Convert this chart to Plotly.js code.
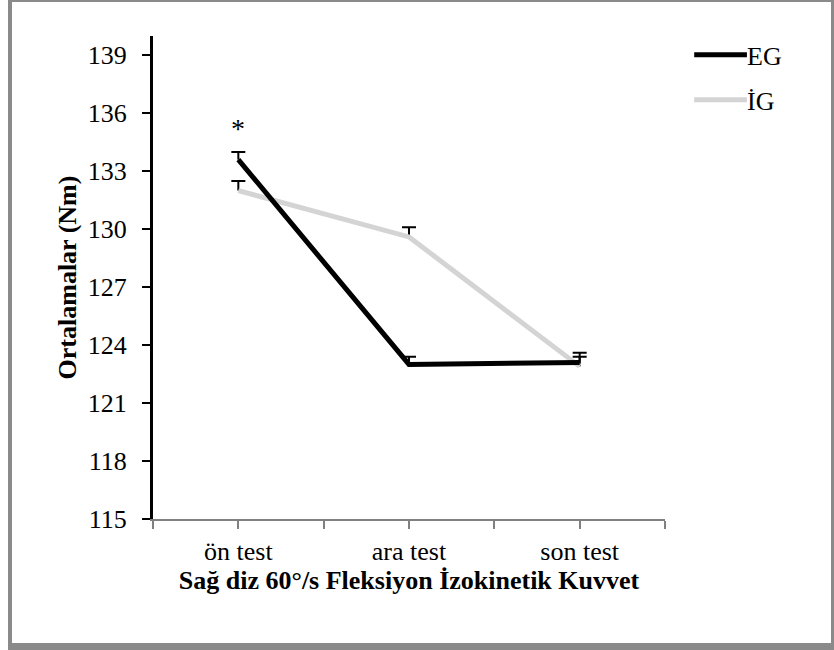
<!DOCTYPE html>
<html>
<head>
<meta charset="utf-8">
<script src="https://cdn.plot.ly/plotly-3.0.1.min.js"></script>
<style>
  html, body { margin: 0; padding: 0; background: #fff; }
  #wrap { position: relative; width: 834px; height: 650px; }
  #chart { position: absolute; left: 0; top: 0; width: 834px; height: 650px; }
  #frame {
    position: absolute; left: 8px; top: 0; width: 819px; height: 641px;
    border-left: 4px solid #8a8a8a; border-top: 2px solid #8a8a8a;
    border-right: 3px solid #8a8a8a; border-bottom: 7px solid #8a8a8a;
    pointer-events: none;
  }
</style>
</head>
<body>
<div id="wrap">
  <div id="chart"></div>
  <div id="frame"></div>
</div>
<script>
// Test phases and group means (Nm) with their upper error values
const categories = ['ön test', 'ara test', 'son test'];
const seriesNames = ['EG', 'İG'];
const egMeans = [133.6, 123.0, 123.1];
const egErr = [0.4, 0.4, 0.5];
const igMeans = [132.0, 129.6, 122.9];
const igErr = [0.5, 0.5, 0.5];
const yTicks = [115, 118, 121, 124, 127, 130, 133, 136, 139];
const significance = [{ phase: 'ön test', label: '*', y: 135.2 }];

const serif = 'Liberation Serif';
const xIdx = categories.map((c, i) => i);

// ticks sit both on category centres and halfway between them
const tickVals = [];
const tickText = [];
for (let i = -0.5; i <= categories.length - 0.5; i += 0.5) {
  tickVals.push(i);
  tickText.push(Number.isInteger(i) ? categories[i] : '');
}

function series(name, y, err, color) {
  return [
    // upper error stem, no caps
    { type: 'scatter', mode: 'none', x: xIdx, y: y, hoverinfo: 'skip',
      error_y: { type: 'data', symmetric: false, array: err, arrayminus: err.map(() => 0),
                 color: '#000', thickness: 2, width: 0 },
      showlegend: false },
    // single cap on top of each stem
    { type: 'scatter', mode: 'none', x: xIdx, y: y.map((v, i) => v + err[i]), hoverinfo: 'skip',
      error_y: { type: 'data', array: err.map(() => 0), color: '#000', thickness: 2, width: 7 },
      showlegend: false },
    { type: 'scatter', mode: 'lines', name: name, x: xIdx, y: y,
      line: { color: color, width: 5 }, showlegend: false, cliponaxis: false }
  ];
}

const legendColors = ['#000000', '#d4d4d4'];
const data = [].concat(
  series(seriesNames[1], igMeans, igErr, legendColors[1]),
  series(seriesNames[0], egMeans, egErr, legendColors[0])
);

// legend drawn as line samples with labels to the right
const legendY = [0.961, 0.868];
const shapes = seriesNames.map((n, i) => ({
  type: 'line', xref: 'paper', yref: 'paper',
  x0: 1.057, x1: 1.16, y0: legendY[i], y1: legendY[i],
  line: { color: legendColors[i], width: 5 }
}));
const annotations = seriesNames.map((n, i) => ({
  xref: 'paper', yref: 'paper', x: 1.156, y: legendY[i] - 0.004,
  xanchor: 'left', yanchor: 'middle', text: n, showarrow: false,
  font: { family: serif, size: 26, color: '#000' }
}));
significance.forEach(s => annotations.push({
  x: categories.indexOf(s.phase), y: s.y, xref: 'x', yref: 'y',
  text: s.label, showarrow: false, yanchor: 'middle',
  font: { family: serif, size: 28, color: '#000' }
}));

const layout = {
  width: 834, height: 650,
  margin: { l: 153, r: 169, t: 36, b: 131 },
  paper_bgcolor: 'rgba(0,0,0,0)', plot_bgcolor: '#fff',
  showlegend: false,
  font: { family: serif, size: 26, color: '#000' },
  xaxis: {
    range: [-0.5, categories.length - 0.5], tickvals: tickVals, ticktext: tickText,
    showgrid: false, zeroline: false, showline: true, linecolor: '#808080', linewidth: 2,
    ticks: 'outside', ticklen: 8, tickwidth: 2, tickcolor: '#808080',
    ticklabelstandoff: 0,
    tickfont: { family: serif, size: 26, color: '#000' },
    title: { text: '<b>Sağ diz 60°/s Fleksiyon İzokinetik Kuvvet</b>', standoff: 6,
             font: { family: serif, size: 26, color: '#000' } }
  },
  yaxis: {
    range: [115, 140], tickvals: yTicks,
    showgrid: false, zeroline: false, showline: true, linecolor: '#000', linewidth: 3,
    ticks: 'outside', ticklen: 8, tickwidth: 2, tickcolor: '#000',
    ticklabelstandoff: 10,
    tickfont: { family: serif, size: 26, color: '#000' },
    title: { text: '<b>Ortalamalar (Nm)</b>', standoff: 4,
             font: { family: serif, size: 26, color: '#000' } }
  },
  shapes: shapes,
  annotations: annotations
};

Plotly.newPlot('chart', data, layout, { staticPlot: true });
</script>
</body>
</html>
